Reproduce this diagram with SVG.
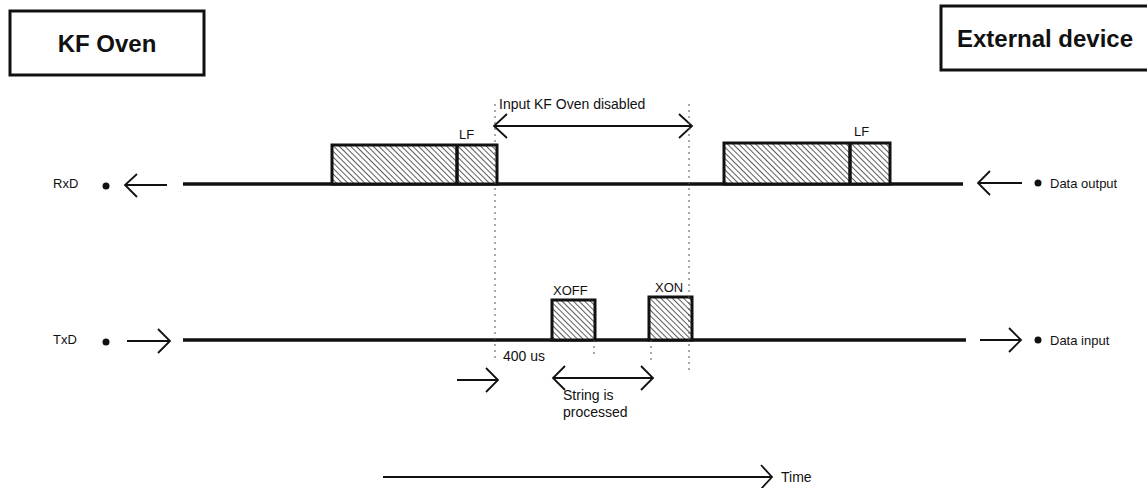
<svg xmlns="http://www.w3.org/2000/svg" width="1147" height="488" viewBox="0 0 1147 488">
<defs>
<pattern id="hatch" patternUnits="userSpaceOnUse" width="4" height="4" patternTransform="rotate(-45)">
<rect width="4" height="4" fill="#ffffff"/>
<line x1="0" y1="0" x2="0" y2="4" stroke="#333" stroke-width="1.6"/>
</pattern>
</defs>
<style>
.box{fill:#fff;stroke:#111;stroke-width:3}
.title{font-family:"Liberation Sans",Arial,sans-serif;font-weight:bold;font-size:24px;fill:#111}
.lbl{font-family:"Liberation Sans",Arial,sans-serif;font-size:14px;fill:#111}
.sml{font-family:"Liberation Sans",Arial,sans-serif;font-size:13px;fill:#111}
.sig{stroke:#111;stroke-width:3.5;fill:none}
.blk{fill:url(#hatch);stroke:#111;stroke-width:3}
.ln{stroke:#111;stroke-width:1.8;fill:none}
.dash{stroke:#555;stroke-width:1;stroke-dasharray:2 4;fill:none}
</style>
<rect width="1147" height="488" fill="#fff"/>
<g id="kf-oven">
<rect class="box" x="10" y="11" width="194" height="64"/>
<text class="title" x="107" y="52" text-anchor="middle">KF Oven</text>
</g>
<g id="external-device">
<rect class="box" x="941" y="6" width="210" height="64"/>
<text class="title" x="1045" y="47" text-anchor="middle">External device</text>
</g>
<g id="rxd">
<text class="sml" x="53" y="188">RxD</text>
<circle cx="106" cy="186" r="3.5" fill="#111"/>
<path class="sig" d="M183 184 H963"/>
<rect class="blk" x="332" y="145" width="165" height="39"/>
<line class="sig" x1="457" y1="145" x2="457" y2="184"/>
<text class="sml" x="459" y="139">LF</text>
<rect class="blk" x="724" y="143" width="166" height="41"/>
<line class="sig" x1="850" y1="143" x2="850" y2="184"/>
<text class="sml" x="854" y="136">LF</text>
<circle cx="1038" cy="183" r="3.5" fill="#111"/>
<text class="sml" x="1050" y="188">Data output</text>
</g>
<g id="txd">
<text class="sml" x="53" y="344">TxD</text>
<circle cx="106" cy="342" r="3.5" fill="#111"/>
<path class="sig" d="M183 340 H966"/>
<rect class="blk" x="552" y="300" width="43" height="40"/>
<text class="sml" x="553" y="295">XOFF</text>
<rect class="blk" x="649" y="297" width="43" height="43"/>
<text class="sml" x="655" y="292">XON</text>
<circle cx="1038" cy="340" r="3.5" fill="#111"/>
<text class="sml" x="1050" y="345">Data input</text>
</g>
<g id="annotations">
<text class="lbl" x="499" y="109">Input KF Oven disabled</text>
<text class="lbl" x="503" y="361">400 us</text>
<text class="lbl" x="563" y="400">String is</text>
<text class="lbl" x="563" y="417">processed</text>
<text class="lbl" x="781" y="482">Time</text>
</g>
<g id="connectors">
<path class="ln" d="M167 185 H125 M137 174 L125 185 L137 197"/>
<path class="ln" d="M1022 183 H978 M990 171 L978 183 L990 195"/>
<path class="ln" d="M127 341 H170 M158 329 L170 341 L158 353"/>
<path class="ln" d="M980 340 H1021 M1009 328 L1021 340 L1009 352"/>
<path class="ln" d="M494 126 H692 M507 114 L494 126 L507 138 M679 114 L692 126 L679 138"/>
<path class="ln" d="M457 380 H498 M486 368 L498 380 L486 392"/>
<path class="ln" d="M553 378 H653 M565 366 L553 378 L565 390 M641 366 L653 378 L641 390"/>
<path class="ln" d="M383 477 H772 M761 465 L772 477 L761 489"/>
<path class="dash" d="M495 104 V360"/>
<path class="dash" d="M689 104 V372"/>
<path class="dash" d="M594 340 V358"/>
<path class="dash" d="M651 340 V360"/>
</g>
</svg>
